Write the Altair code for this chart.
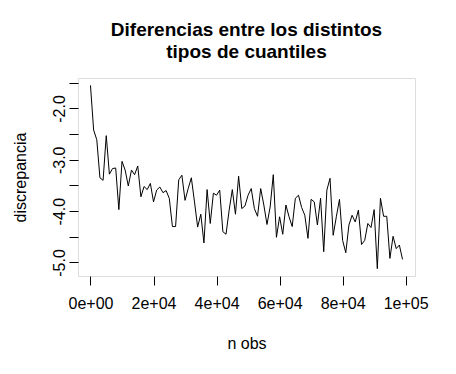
import altair as alt
import pandas as pd

n_obs = list(range(0, 100000, 1000))
discrepancia = [
    -1.55, -2.42, -2.61, -3.35, -3.40, -2.53, -3.28, -3.17, -3.16, -3.97,
    -3.03, -3.20, -3.51, -3.20, -3.29, -3.12, -3.72, -3.52, -3.58, -3.46,
    -3.82, -3.59, -3.53, -3.64, -3.60, -3.75, -4.30, -4.30, -3.39, -3.30,
    -3.79, -3.56, -3.35, -3.82, -4.31, -4.06, -4.62, -3.58, -4.24, -3.65,
    -3.69, -3.59, -4.40, -4.45, -3.98, -3.58, -4.06, -3.32, -3.95, -3.90,
    -3.69, -3.56, -3.95, -4.10, -3.56, -3.88, -4.26, -3.92, -3.29, -4.51,
    -4.11, -4.45, -3.88, -4.11, -4.30, -3.75, -3.69, -3.93, -4.08, -4.53,
    -3.77, -3.82, -4.27, -3.75, -4.79, -3.59, -3.36, -4.47, -4.11, -3.77,
    -4.57, -4.81, -4.27, -4.08, -4.21, -3.98, -4.65, -4.57, -4.24, -4.32,
    -3.97, -5.12, -3.75, -4.10, -4.10, -4.92, -4.49, -4.73, -4.66, -4.94,
]
x_ticks = [0, 20000, 40000, 60000, 80000, 100000]
y_ticks = [-1.5, -2.0, -2.5, -3.0, -3.5, -4.0, -4.5, -5.0]

df = pd.DataFrame({"n": n_obs, "d": discrepancia})

FONT = "Liberation Sans"

x_axis = alt.Axis(
    values=x_ticks,
    labelExpr="datum.value == 0 ? '0e+00' : datum.value == 100000 ? '1e+05' : (datum.value / 10000) + 'e+04'",
    title="n obs",
    grid=False, domain=False,
    tickSize=9, tickColor="black", tickWidth=1,
    labelFont=FONT, labelFontSize=16, labelColor="black",
    labelPadding=10, labelFlush=False, labelOverlap=False,
    titleFont=FONT, titleFontSize=16, titleFontWeight="normal", titleColor="black",
    titleX=168.5, titleY=67, titleAlign="center", titleBaseline="middle",
)
y_axis = alt.Axis(
    values=y_ticks,
    labelExpr="datum.value % 1 == 0 ? '-' + format(-datum.value, '.1f') : ''",
    title="discrepancia",
    grid=False, domain=False,
    tickSize=9, tickColor="black", tickWidth=1,
    labelFont=FONT, labelFontSize=16, labelColor="black",
    labelAngle=270, labelAlign="center", labelBaseline="alphabetic",
    labelPadding=5, labelOverlap=False, labelBound=False,
    titleFont=FONT, titleFontSize=16, titleFontWeight="normal", titleColor="black",
    titleAngle=270, titleX=-58, titleY=99, titleAlign="center", titleBaseline="middle",
)

chart = alt.Chart(df).mark_line(color="black", strokeWidth=1).encode(
    x=alt.X("n:Q", scale=alt.Scale(domain=[-3960, 102960], nice=False, zero=False), axis=x_axis),
    y=alt.Y("d:Q", scale=alt.Scale(domain=[-5.263, -1.407], nice=False, zero=False), axis=y_axis),
).properties(
    width=337, height=198,
    title=alt.Title(
        ["Diferencias entre los distintos", "tipos de cuantiles"],
        font=FONT, fontSize=19, fontWeight="bold", color="black",
        anchor="middle", lineHeight=22.5, offset=16,
    ),
    autosize=alt.AutoSizeParams(type="none"),
    padding={"left": 70, "top": 70, "right": 20, "bottom": 80},
).configure_view(stroke="black", strokeWidth=1).configure(background="white")

chart.save("out.html", embed_options={"renderer": "svg", "actions": False})
